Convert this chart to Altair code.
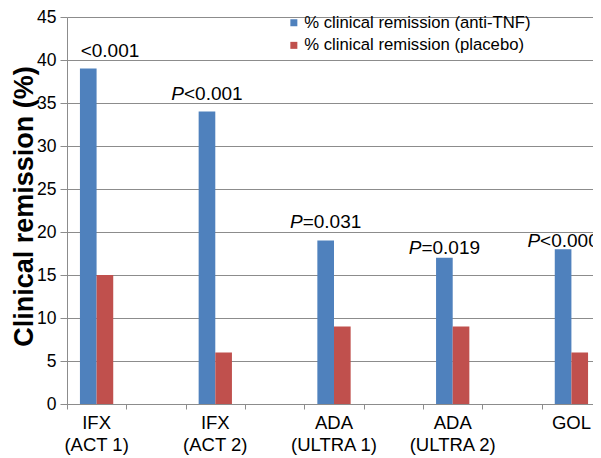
import altair as alt
import pandas as pd

# ---- data ----
categories = ["IFX\n(ACT 1)", "IFX\n(ACT 2)", "ADA\n(ULTRA 1)", "ADA\n(ULTRA 2)", "GOL"]
series_names = ["% clinical remission (anti-TNF)", "% clinical remission (placebo)"]
anti_tnf = [39, 34, 19, 17, 18]
placebo = [15, 6, 9, 9, 6]
p_prefix = ["", "P", "P", "P", "P"]
p_rest = ["<0.001", "<0.001", "=0.031", "=0.019", "<0.0001"]
p_level = [40.3, 35.3, 20.45, 17.4, 18.3]   # annotation heights (data units)
y_ticks = list(range(0, 50, 5))

BLUE = "#4F81BD"
RED = "#C0504D"
GRAY = "#8C8C8C"
FONT = "Liberation Sans"
Y_TITLE = "Clinical remission (%)"

rows = []
for c, a, p in zip(categories, anti_tnf, placebo):
    rows.append({"cat": c, "series": series_names[0], "value": a})
    rows.append({"cat": c, "series": series_names[1], "value": p})
bars_df = pd.DataFrame(rows)

ann_df = pd.DataFrame({
    "cat": categories,
    "series": [series_names[0]] * len(categories),
    "prefix": p_prefix,
    "rest": p_rest,
    "level": p_level,
})

# the original chart continues past the right edge of the picture
x_scale = alt.Scale(domain=categories, range=[0, 534], paddingInner=0.7195, paddingOuter=0.109)
off_scale = alt.Scale(domain=series_names)
y_scale = alt.Scale(domain=[0, 45], nice=False)

bars = alt.Chart(bars_df).mark_bar().encode(
    x=alt.X("cat:N", sort=categories, scale=x_scale, title=None,
            axis=alt.Axis(labelExpr="split(datum.label, '\\n')", labelAngle=0,
                          ticks=False, tickSize=0, labelPadding=9.5,
                          labelFontSize=18.5, labelFont=FONT, labelColor="black",
                          labelLineHeight=22, domain=True, domainColor=GRAY,
                          grid=False, orient="bottom")),
    xOffset=alt.XOffset("series:N", sort=series_names, scale=off_scale),
    y=alt.Y("value:Q", scale=y_scale, title=Y_TITLE,
            axis=alt.Axis(values=y_ticks,
                          titleFont=FONT, titleFontSize=27, titleFontWeight="bold",
                          titleColor="black", titleX=-35, titleY=189,
                          titleAlign="center", titleBaseline="alphabetic", titleAngle=270,
                          labelFont=FONT, labelFontSize=17.5, labelColor="black",
                          labelPadding=4, tickSize=7, tickColor=GRAY,
                          domainColor=GRAY, grid=True, gridColor=GRAY, gridWidth=1)),
    color=alt.Color("series:N", sort=series_names,
                    scale=alt.Scale(domain=series_names, range=[BLUE, RED]),
                    legend=alt.Legend(title=None, orient="none", legendX=218.5, legendY=-2.6,
                                      symbolType="square", symbolSize=49,
                                      symbolStrokeWidth=0, labelFont=FONT,
                                      labelFontSize=16.7, labelColor="black", labelLimit=0,
                                      rowPadding=4.6, labelOffset=2, padding=0)),
)

base_ann = alt.Chart(ann_df).encode(
    x=alt.X("cat:N", sort=categories, scale=x_scale, title=None),
    xOffset=alt.XOffset("series:N", sort=series_names, scale=off_scale),
    y=alt.Y("level:Q", scale=y_scale, title=Y_TITLE),
)

first_ann = base_ann.transform_filter("datum.prefix == ''").mark_text(
    align="left", baseline="alphabetic", dx=-7.6, font=FONT, fontSize=19, color="black"
).encode(text="rest:N")

p_italic = base_ann.transform_filter("datum.prefix != ''").mark_text(
    align="right", baseline="alphabetic", dx=-23, font=FONT, fontSize=19,
    fontStyle="italic", color="black"
).encode(text="prefix:N")

p_text = base_ann.transform_filter("datum.prefix != ''").mark_text(
    align="left", baseline="alphabetic", dx=-23, font=FONT, fontSize=19, color="black"
).encode(text="rest:N")

main = alt.layer(bars, first_ann, p_italic, p_text)

ticks_layer = alt.Chart(bars_df).mark_point(opacity=0).encode(
    x=alt.X(datum=0, type="quantitative",
            scale=alt.Scale(domain=[0, 9], range=[0, 534], nice=False, zero=False),
            axis=alt.Axis(values=list(range(10)), labels=False, domain=False, grid=False,
                          tickSize=5, tickColor=GRAY, orient="bottom", title=None)),
)

chart = alt.layer(main, ticks_layer).resolve_scale(x="independent").properties(
    width=526, height=387,
    autosize=alt.AutoSizeParams(type="none"),
    padding={"left": 59, "top": 9, "right": 0, "bottom": 54},
).configure_view(stroke=None).configure(background="white")

chart.save("out.html", embed_options={"renderer": "svg", "actions": False})
